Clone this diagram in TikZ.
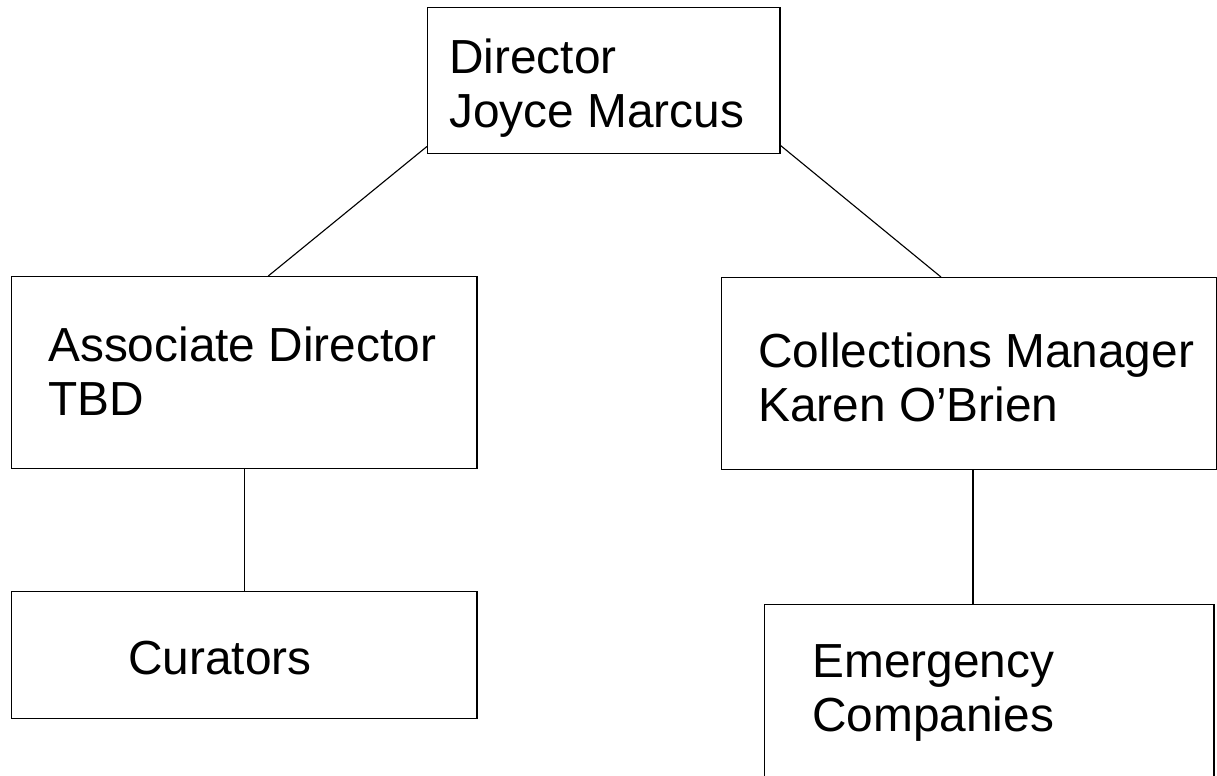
\documentclass[tikz,border=0pt]{standalone}
\usepackage{fontspec}
\setmainfont{Liberation Sans}
\usetikzlibrary{calc}

\begin{document}
\begin{tikzpicture}[x=0.025cm, y=-0.025cm]
  \tikzset{orgbox/.style={draw, line width=1pt, inner sep=0pt, anchor=north west},
           orgtext/.style={font=\fontsize{34}{38.4}\selectfont, align=left, inner sep=0pt, anchor=north west},
           orgline/.style={line width=0.8pt}}
  \useasboundingbox (0,0) rectangle (1217,776);
  \clip (0,0) rectangle (1217,776);
  % boxes
  \node[orgbox, minimum width=8.8cm, minimum height=3.65cm] (dir) at (427,7) {};
  \node[orgbox, minimum width=11.625cm, minimum height=4.8cm] (assoc) at (11,276) {};
  \node[orgbox, minimum width=12.36cm, minimum height=4.8cm] (coll) at (721,277) {};
  \node[orgbox, minimum width=11.625cm, minimum height=3.175cm] (cur) at (11,591) {};
  \node[orgbox, minimum width=11.225cm, minimum height=4.9cm] (emer) at (764,604) {};
  % texts
  \node[orgtext] (dirtxt) at (449,39) {Director\\Joyce Marcus};
  \node[orgtext] (assoctxt) at (48,327) {Associate Director\\TBD};
  \node[orgtext] (colltxt) at (758,333) {Collections Manager\\Karen O’Brien};
  \node[orgtext] (curtxt) at (128,641) {Curators};
  \node[orgtext] (emertxt) at (812,644) {Emergency\\Companies};
  % connectors
  \draw[orgline] ($(dir.south west)+(0,-8)$) -- ($(assoc.north)+(24,0)$);
  \draw[orgline] ($(dir.south east)+(0,-9)$) -- ($(coll.north)+(-28,0)$);
  \draw[orgline] (assoc.south) -- (cur.north);
  \coordinate (cdrop) at ($(coll.south)+(4,0)$);
  \draw[orgline] (cdrop) -- (cdrop |- emer.north);
\end{tikzpicture}
\end{document}
